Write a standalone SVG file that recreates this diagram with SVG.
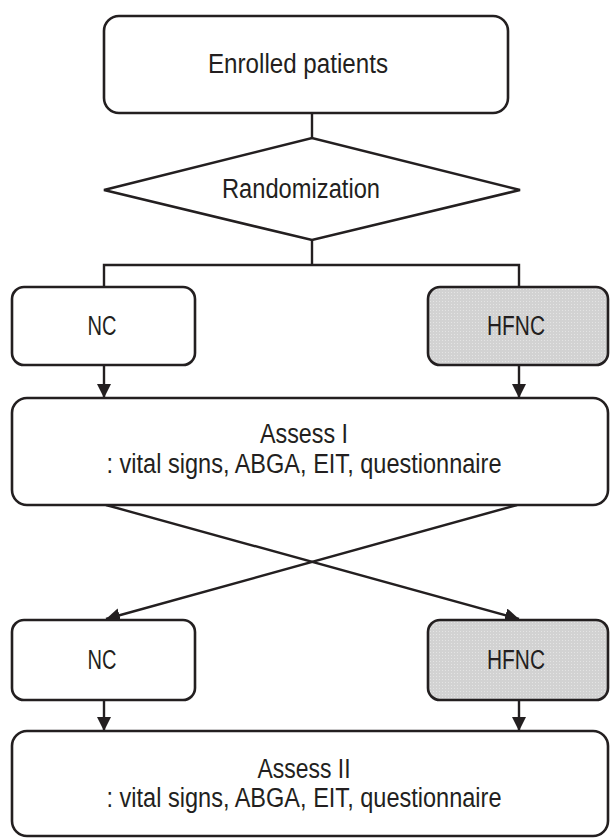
<svg xmlns="http://www.w3.org/2000/svg" width="610" height="838" viewBox="0 0 610 838">
<style>
.box{fill:#ffffff;stroke:#231f20;stroke-width:2.6}
.gray{fill:url(#dots);stroke:#231f20;stroke-width:2.6}
.ln{fill:none;stroke:#231f20;stroke-width:2.4}
.t{font-family:"Liberation Sans",Arial,sans-serif;font-size:27px;fill:#231f20;text-anchor:middle}
</style>
<defs>
<pattern id="dots" width="3" height="3" patternUnits="userSpaceOnUse">
<rect width="3" height="3" fill="#d2d2d2"/>
<rect x="1" y="1" width="1" height="1" fill="#e4e4e4"/>
</pattern>
<marker id="arr" markerUnits="userSpaceOnUse" markerWidth="14" markerHeight="16" refX="14" refY="7" orient="auto">
<path d="M0,0 L14,7 L0,14 Z" fill="#231f20"/>
</marker>
</defs>
<g id="connectors">
<line class="ln" x1="312" y1="113" x2="312" y2="138"/>
<polyline class="ln" points="312,240 312,265"/>
<polyline class="ln" points="104,287 104,265 519,265 519,287"/>
<line class="ln" x1="104" y1="365" x2="104" y2="398" marker-end="url(#arr)"/>
<line class="ln" x1="519" y1="365" x2="519" y2="398" marker-end="url(#arr)"/>
<line class="ln" x1="106" y1="505" x2="519" y2="619" marker-end="url(#arr)"/>
<line class="ln" x1="517" y1="505" x2="106" y2="619" marker-end="url(#arr)"/>
<line class="ln" x1="104" y1="700" x2="104" y2="731" marker-end="url(#arr)"/>
<line class="ln" x1="519" y1="700" x2="519" y2="731" marker-end="url(#arr)"/>
</g>
<g id="enrolled">
<rect class="box" x="104" y="16" width="404" height="97" rx="15"/>
<text class="t" x="298" y="73" textLength="180" lengthAdjust="spacingAndGlyphs">Enrolled patients</text>
</g>
<g id="randomization">
<polygon class="box" points="104,190 312,138 520,190 312,240"/>
<text class="t" x="301" y="198" textLength="158" lengthAdjust="spacingAndGlyphs">Randomization</text>
</g>
<g id="nc1">
<rect class="box" x="12" y="287" width="183" height="78" rx="12"/>
<text class="t" x="102" y="335" textLength="29" lengthAdjust="spacingAndGlyphs">NC</text>
</g>
<g id="hfnc1">
<rect class="gray" x="428" y="287" width="180" height="78" rx="12"/>
<text class="t" x="516" y="335" textLength="58" lengthAdjust="spacingAndGlyphs">HFNC</text>
</g>
<g id="assess1">
<rect class="box" x="12" y="398" width="596" height="107" rx="15"/>
<text class="t" x="304" y="443" textLength="88" lengthAdjust="spacingAndGlyphs">Assess I</text>
<text class="t" x="304" y="473" textLength="395" lengthAdjust="spacingAndGlyphs">: vital signs, ABGA, EIT, questionnaire</text>
</g>
<g id="nc2">
<rect class="box" x="12" y="620" width="183" height="80" rx="12"/>
<text class="t" x="102" y="669" textLength="29" lengthAdjust="spacingAndGlyphs">NC</text>
</g>
<g id="hfnc2">
<rect class="gray" x="428" y="620" width="180" height="80" rx="12"/>
<text class="t" x="516" y="669" textLength="58" lengthAdjust="spacingAndGlyphs">HFNC</text>
</g>
<g id="assess2">
<rect class="box" x="12" y="731" width="596" height="105" rx="15"/>
<text class="t" x="304" y="778" textLength="93" lengthAdjust="spacingAndGlyphs">Assess II</text>
<text class="t" x="304" y="807" textLength="395" lengthAdjust="spacingAndGlyphs">: vital signs, ABGA, EIT, questionnaire</text>
</g>
</svg>
